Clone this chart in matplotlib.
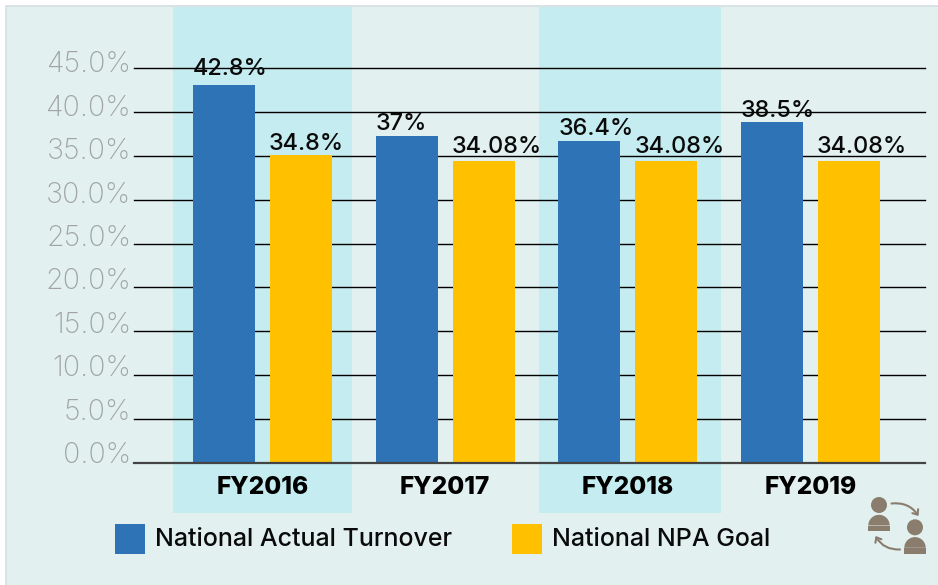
import matplotlib
matplotlib.use('Agg')
import matplotlib.pyplot as plt
from matplotlib.patches import Rectangle, Circle, Wedge, FancyArrowPatch

years = ['FY2016', 'FY2017', 'FY2018', 'FY2019']
series_names = ['National Actual Turnover', 'National NPA Goal']
# bar heights as they sit against the gridlines in the picture
actual = [43.1, 37.3, 36.7, 38.9]
goal = [35.1, 34.4, 34.4, 34.4]
actual_labels = ['42.8%', '37%', '36.4%', '38.5%']
goal_labels = ['34.8%', '34.08%', '34.08%', '34.08%']
ticks = [0, 5, 10, 15, 20, 25, 30, 35, 40, 45]
tick_labels = ['0.0%', '5.0%', '10.0%', '15.0%', '20.0%', '25.0%', '30.0%', '35.0%', '40.0%', '45.0%']

BLUE = '#2E73B5'
GOLD = '#FFC000'
PANEL = '#E2F1F0'
BAND = '#C5ECF0'
ICON = '#8A7D6D'
W, H = 938, 585

fig = plt.figure(figsize=(W / 100, H / 100), dpi=100, facecolor='white')

# overlay in pixel coords for the panel, legend and icon
bg = fig.add_axes([0, 0, 1, 1])
bg.set_xlim(0, W)
bg.set_ylim(H, 0)
bg.axis('off')
bg.add_patch(Rectangle((6, 6), W, H, fc=PANEL, ec='#D5DEE2', lw=1.2))

left, right, top, bottom = 133.5, 925, 68.5, 462.5
ax = fig.add_axes([left / W, 1 - bottom / H, (right - left) / W, (bottom - top) / H])
ax.patch.set_alpha(0)
step = 182.7
ax.set_xlim((left - 262.5) / step, (right - 262.5) / step)
ax.set_ylim(0, 45)
for s in ax.spines.values():
    s.set_visible(False)
ax.tick_params(length=0)
ax.set_xticks([])
ax.set_yticks([])

# alternate year bands run past the plot area
for i, half in [(0, 0.49), (2, 0.50)]:
    c = i + (0.012 if i else 0)
    ax.axvspan(c - half, c + half, ymin=-0.128, ymax=1.156, color=BAND, lw=0, clip_on=False, zorder=0)

for t in ticks[1:]:
    ax.axhline(t, color='black', lw=1.0, zorder=1, clip_on=False)
ax.axhline(0, color='#444444', lw=1.6, zorder=4, clip_on=False)

bar_w = 62 / step
off = 38.5 / step
for i in range(len(years)):
    ax.bar(i - off, actual[i], bar_w, color=BLUE, zorder=2)
    ax.bar(i + off, goal[i], bar_w, color=GOLD, zorder=2)

# labels start at the left edge of each bar
actual_gap = [10, 6, 6, 5]
goal_gap = [5, 8, 8, 8]
for i in range(len(years)):
    ax.annotate(actual_labels[i], (i - off - bar_w / 2, actual[i]), xytext=(0, actual_gap[i] * 0.72),
                textcoords='offset points', ha='left', va='baseline', fontsize=16.9,
                family='Inter', weight='medium', color='#0a0a0a', zorder=5, annotation_clip=False)
    ax.annotate(goal_labels[i], (i + off - bar_w / 2, goal[i]), xytext=(-1 * 0.72, goal_gap[i] * 0.72),
                textcoords='offset points', ha='left', va='baseline', fontsize=16.9,
                family='Inter', weight='medium', color='#0a0a0a', zorder=5, annotation_clip=False)
    ax.annotate(years[i], (i, 0), xytext=(0, -31 * 0.72), textcoords='offset points', ha='center',
                va='baseline', fontsize=17.6, family='Inter', weight='heavy', color='black',
                annotation_clip=False)

for t, lab in zip(ticks, tick_labels):
    ax.annotate(lab, (0, t), xycoords=ax.get_yaxis_transform(), xytext=(-2.5 * 0.72, -(0.5 + 3.5 * t / 45) * 0.72),
                textcoords='offset points', ha='right', va='baseline', fontsize=20.6,
                family='Inter', weight='light', color='#A0A4A4', annotation_clip=False)

# legend
legend_x = [115, 512]
for x, c, name in zip(legend_x, [BLUE, GOLD], series_names):
    bg.add_patch(Rectangle((x, 524), 30, 30, fc=c, ec='none'))
    bg.text(x + 40, 546, name, fontsize=18, family='Inter', weight='medium', color='#0a0a0a', va='baseline')

# people icon
for hx, hy in [(879, 505), (915, 527.3)]:
    bg.add_patch(Circle((hx, hy), 8, fc=ICON, ec='none'))
    bg.add_patch(Wedge((hx, hy + 20.5), 10.7, 180, 360, fc=ICON, ec='none'))
    bg.add_patch(Rectangle((hx - 10.7, hy + 20.5), 21.4, 5.7, fc=ICON, ec='none'))
bg.add_patch(FancyArrowPatch((891.5, 503.5), (918.5, 516), connectionstyle='arc3,rad=-0.3', arrowstyle='->,head_length=3,head_width=2.5', color=ICON, lw=1.5, shrinkA=0, shrinkB=0))
bg.add_patch(FancyArrowPatch((900, 549.5), (875.5, 536), connectionstyle='arc3,rad=-0.3', arrowstyle='->,head_length=3,head_width=2.5', color=ICON, lw=1.5, shrinkA=0, shrinkB=0))

fig.savefig('out.png', dpi=100)
